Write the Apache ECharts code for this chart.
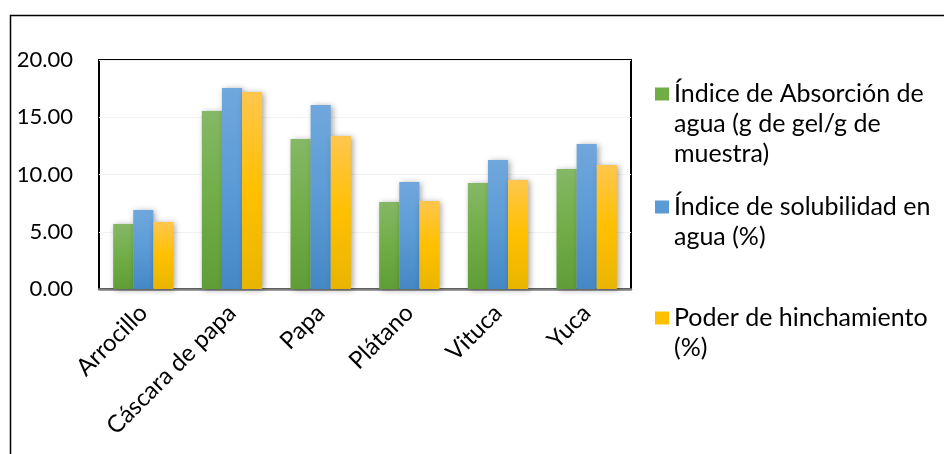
<!DOCTYPE html>
<html>
<head>
<meta charset="utf-8">
<script src="https://cdn.jsdelivr.net/npm/echarts@6/dist/echarts.min.js"></script>
<style>html,body{margin:0;padding:0;background:#fff}#c{width:944px;height:454px}</style>
</head>
<body>
<div id="c"></div>
<script>
const categories = ['Arrocillo', 'Cáscara de papa', 'Papa', 'Plátano', 'Vituca', 'Yuca'];
const seriesNames = [
  'Índice de Absorción de agua (g de gel/g de muestra)',
  'Índice de solubilidad en agua (%)',
  'Poder de hinchamiento (%)'
];
const legendLines = [
  ['Índice de Absorción de', 'agua (g de gel/g de', 'muestra)'],
  ['Índice de solubilidad en', 'agua (%)'],
  ['Poder de hinchamiento', '(%)']
];
const absorcion = [5.68, 15.55, 13.10, 7.60, 9.26, 10.48];
const solubilidad = [6.90, 17.55, 16.07, 9.35, 11.27, 12.66];
const hinchamiento = [5.85, 17.20, 13.36, 7.69, 9.52, 10.83];
const yTicks = { min: 0, max: 20, interval: 5 };

const grad = (a, b, c) => new echarts.graphic.LinearGradient(0, 0, 0, 1, [
  { offset: 0, color: a }, { offset: 0.5, color: b }, { offset: 1, color: c }
]);
const fills = [
  grad('#85B866', '#70AD47', '#5F9D37'),
  grad('#70A7DD', '#5B9BD5', '#4588C6'),
  grad('#FFC64D', '#FFC000', '#E9B500')
];
const plain = ['#70AD47', '#5B9BD5', '#FFC000'];
const dataSets = [absorcion, solubilidad, hinchamiento];
const FONT = 'Lato, "Open Sans", sans-serif';
const LH = 30;

const chart = echarts.init(document.getElementById('c'), null, { renderer: 'canvas' });

const firstLineY = [94, 207, 318];
const legends = seriesNames.map((name, i) => {
  const n = legendLines[i].length;
  const total = 2 * n - 1;
  return {
    show: true,
    orient: 'vertical',
    left: 655,
    top: firstLineY[i] - (total / 2) * LH,
    padding: 0,
    itemWidth: 14,
    itemHeight: 13,
    itemGap: 0,
    icon: 'rect',
    data: [{ name: name, itemStyle: { color: plain[i] } }],
    formatter: () => new Array(n - 1).fill('').concat(legendLines[i]).join('\n'),
    textStyle: { fontFamily: FONT, fontSize: 25, color: '#000', lineHeight: LH }
  };
});

chart.setOption({
  animation: false,
  backgroundColor: '#fff',
  graphic: [{
    type: 'rect', left: 8, top: 13, silent: true,
    shape: { width: 960, height: 460 },
    style: { fill: 'none', stroke: '#000', lineWidth: 1.5 }
  }],
  legend: legends,
  grid: {
    left: 99, right: 313, top: 60, bottom: 165,
    outerBoundsMode: 'none', containLabel: false,
    show: true, borderColor: '#000', borderWidth: 2, backgroundColor: 'transparent'
  },
  xAxis: {
    type: 'category',
    data: categories,
    axisLine: { show: true, lineStyle: { color: '#808080', width: 2.5 } },
    axisTick: { show: false },
    axisLabel: { rotate: 45, margin: 20, fontFamily: FONT, fontSize: 24, color: '#000', interval: 0 }
  },
  yAxis: {
    type: 'value',
    min: yTicks.min, max: yTicks.max, interval: yTicks.interval,
    axisLine: { show: false },
    axisTick: { show: false },
    splitLine: { show: true, lineStyle: { color: '#f2f2f2', width: 1 } },
    axisLabel: { margin: 26, fontFamily: FONT, fontSize: 22, color: '#000', formatter: v => v.toFixed(2) }
  },
  series: dataSets.map((d, i) => ({
    type: 'bar',
    name: seriesNames[i],
    data: d,
    barGap: '0%',
    barCategoryGap: '32%',
    itemStyle: {
      color: fills[i],
      shadowBlur: 6, shadowColor: 'rgba(0,0,0,0.35)', shadowOffsetX: 2, shadowOffsetY: 1
    }
  }))
});
</script>
</body>
</html>
